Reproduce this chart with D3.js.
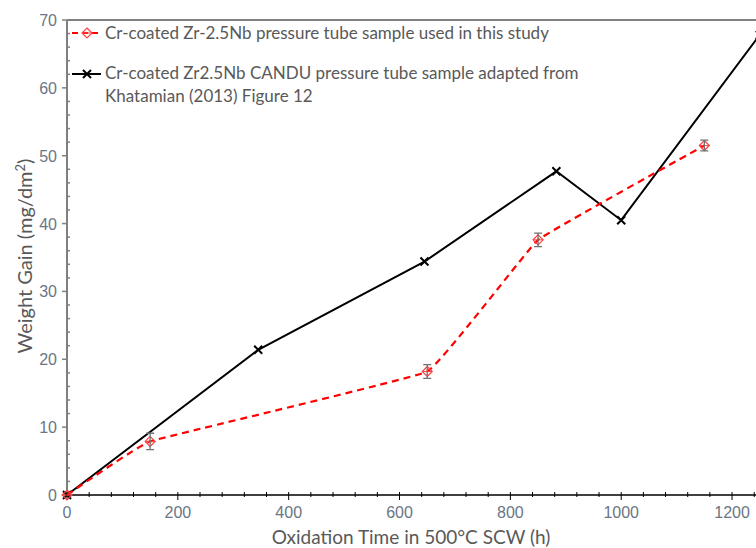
<!DOCTYPE html>
<html>
<head>
<meta charset="utf-8">
<title>Weight gain vs oxidation time</title>
<script src="https://cdn.jsdelivr.net/npm/d3@7"></script>
<style>
  body { margin: 0; background: #fff; }
  text { font-family: "Liberation Sans", Arial, sans-serif; }
  .lbl { font-family: Lato, "Open Sans", sans-serif; fill: #595959; }
</style>
</head>
<body>
<svg width="756" height="548"></svg>
<script>
// study data (red, dashed, with error bars)
var studyTime = [0, 150, 650, 850, 1150];
var studyGain = [0, 7.9, 18.2, 37.6, 51.5];
var studyErr  = [0, 1.2, 1.0, 1.0, 0.8];
// Khatamian (2013) data (black)
var refTime = [0, 345, 645, 883, 1000, 1250];
var refGain = [0, 21.4, 34.4, 47.7, 40.5, 67.8];

var xTicks = [0, 200, 400, 600, 800, 1000, 1200];
var yTicks = [0, 10, 20, 30, 40, 50, 60, 70];
var legendNames = ["Cr-coated Zr-2.5Nb pressure tube sample used in this study",
                   ["Cr-coated Zr2.5Nb CANDU pressure tube sample adapted from", "Khatamian (2013) Figure 12"]];

var svg = d3.select("svg");
var padL = 67, padT = 20, padB = 495;   // plot edges ("top" is taken by window.top)

var x = d3.scaleLinear().domain([0, 1250]).range([padL, padL + 1250 * 0.5542]);
var y = d3.scaleLinear().domain([0, 70]).range([padB, padT]);

// top border
svg.append("line").attr("x1", padL).attr("x2", 756).attr("y1", padT).attr("y2", padT)
  .attr("stroke", "#808080").attr("stroke-width", 2);

// y axis (gray) with minor ticks inside
var yMinor = d3.range(0, 70, 2).filter(function(v){ return v % 10 != 0; });
var gy = svg.append("g");
gy.append("line").attr("x1", padL).attr("x2", padL).attr("y1", padT).attr("y2", padB)
  .attr("stroke", "#808080").attr("stroke-width", 2);
gy.selectAll(".mn").data(yMinor).enter().append("line")
  .attr("x1", padL).attr("x2", padL + 3).attr("y1", y).attr("y2", y)
  .attr("stroke", "#808080").attr("stroke-width", 1.5);
gy.selectAll(".mj").data(yTicks).enter().append("line")
  .attr("x1", padL - 5).attr("x2", padL).attr("y1", y).attr("y2", y)
  .attr("stroke", "#808080").attr("stroke-width", 1.5);
gy.selectAll("text").data(yTicks).enter().append("text")
  .attr("x", padL - 10).attr("y", function(d){ return y(d) + 6; })
  .attr("text-anchor", "end").attr("font-size", 16).attr("fill", "#6a7684")
  .text(function(d){ return d; });

// x axis (black) with minor ticks
var xMinor = d3.range(0, 1250, 40).filter(function(v){ return v % 200 != 0; });
var gx = svg.append("g");
gx.append("line").attr("x1", padL).attr("x2", 756).attr("y1", padB).attr("y2", padB)
  .attr("stroke", "#000").attr("stroke-width", 1.5);
gx.selectAll(".mn").data(xMinor).enter().append("line")
  .attr("x1", x).attr("x2", x).attr("y1", padB - 3).attr("y2", padB + 2)
  .attr("stroke", "#000").attr("stroke-width", 1);
gx.selectAll(".mj").data(xTicks).enter().append("line")
  .attr("x1", x).attr("x2", x).attr("y1", padB - 3).attr("y2", padB + 5)
  .attr("stroke", "#000").attr("stroke-width", 1);
gx.selectAll("text").data(xTicks).enter().append("text")
  .attr("x", x).attr("y", padB + 23)
  .attr("text-anchor", "middle").attr("font-size", 16).attr("fill", "#6a7684")
  .text(function(d){ return d; });

// axis titles
svg.append("text").attr("class", "lbl").attr("x", 411).attr("y", 544)
  .attr("text-anchor", "middle").attr("font-size", 19)
  .text("Oxidation Time in 500°C SCW (h)");
var yt = svg.append("text").attr("class", "lbl")
  .attr("transform", "translate(32,256) rotate(-90)")
  .attr("text-anchor", "middle").attr("font-size", 20);
yt.append("tspan").text("Weight Gain (mg/dm");
yt.append("tspan").attr("font-size", 13).attr("dy", -7).text("2");
yt.append("tspan").attr("dy", 7).text(")");

var plot = svg.append("g");

// black series
var ref = refTime.map(function(t, i){ return [t, refGain[i]]; });
plot.append("path").datum(ref)
  .attr("d", d3.line().x(function(d){ return x(d[0]); }).y(function(d){ return y(d[1]); }))
  .attr("fill", "none").attr("stroke", "#000").attr("stroke-width", 2);
function cross(g, cx, cy) {
  g.append("path").attr("d", "M" + (cx - 4) + "," + (cy - 4) + "L" + (cx + 4) + "," + (cy + 4) +
      "M" + (cx - 4) + "," + (cy + 4) + "L" + (cx + 4) + "," + (cy - 4))
    .attr("stroke", "#000").attr("stroke-width", 2);
}
ref.forEach(function(d){ cross(plot, x(d[0]), y(d[1])); });

// red series (lightly smoothed)
var study = studyTime.map(function(t, i){ return [t, studyGain[i], studyErr[i]]; });
plot.append("path").datum(study)
  .attr("d", d3.line().curve(d3.curveCardinal.tension(0.8))
    .x(function(d){ return x(d[0]); }).y(function(d){ return y(d[1]); }))
  .attr("fill", "none").attr("stroke", "#ff0000").attr("stroke-width", 2.2)
  .attr("stroke-dasharray", "7,5");
function diamond(g, cx, cy) {
  g.append("path").attr("d", "M" + cx + "," + (cy - 5) + "L" + (cx + 5) + "," + cy + "L" + cx + "," + (cy + 5) +
      "L" + (cx - 5) + "," + cy + "Z")
    .attr("fill", "none").attr("stroke", "#ff4040").attr("stroke-width", 1.2);
  g.append("line").attr("x1", cx - 5).attr("x2", cx + 5).attr("y1", cy).attr("y2", cy)
    .attr("stroke", "#ff4040").attr("stroke-width", 1);
}
study.forEach(function(d){
  var cx = x(d[0]), cy = y(d[1]);
  diamond(plot, cx, cy);
  if (d[2] > 0) {
    var y1 = y(d[1] + d[2]), y2 = y(d[1] - d[2]);
    plot.append("path").attr("d", "M" + cx + "," + y1 + "V" + y2 +
        "M" + (cx - 4) + "," + y1 + "H" + (cx + 4) + "M" + (cx - 4) + "," + y2 + "H" + (cx + 4))
      .attr("stroke", "#707070").attr("stroke-width", 1.3).attr("fill", "none");
  }
});

// legend
var lg = svg.append("g");
lg.append("line").attr("x1", 72).attr("x2", 101).attr("y1", 33).attr("y2", 33)
  .attr("stroke", "#ff0000").attr("stroke-width", 2).attr("stroke-dasharray", "6,4");
diamond(lg, 87, 33);
lg.append("line").attr("x1", 72).attr("x2", 101).attr("y1", 74).attr("y2", 74)
  .attr("stroke", "#000").attr("stroke-width", 2);
cross(lg, 87, 74);
lg.append("text").attr("class", "lbl").attr("x", 105).attr("y", 39).attr("font-size", 17)
  .text(legendNames[0]);
lg.append("text").attr("class", "lbl").attr("x", 105).attr("y", 79).attr("font-size", 17)
  .text(legendNames[1][0]);
lg.append("text").attr("class", "lbl").attr("x", 105).attr("y", 102).attr("font-size", 17)
  .text(legendNames[1][1]);
</script>
</body>
</html>
